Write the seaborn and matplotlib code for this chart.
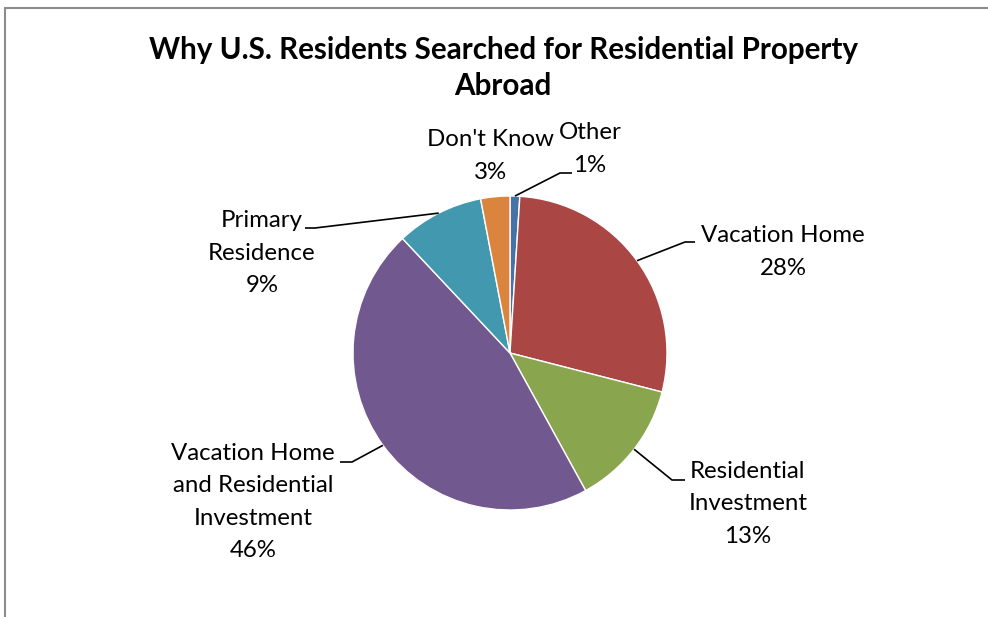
import numpy as np
import matplotlib
matplotlib.use("Agg")
import matplotlib.pyplot as plt
import seaborn as sns

# Survey shares, in clockwise order from the top of the pie
categories = ["Other", "Vacation Home", "Residential Investment",
              "Vacation Home and Residential Investment",
              "Primary Residence", "Don't Know"]
shares = [1, 28, 13, 46, 9, 3]
label_texts = ["Other\n1%", "Vacation Home\n28%", "Residential\nInvestment\n13%",
               "Vacation Home\nand Residential\nInvestment\n46%",
               "Primary\nResidence\n9%", "Don't Know\n3%"]
colors = ["#4572A7", "#AA4643", "#89A54E", "#71588F", "#4198AF", "#DB843D"]

sns.set_theme(style="white")
plt.rcParams["font.family"] = ["Lato", "DejaVu Sans"]

W, H = 988, 617
fig = plt.figure(figsize=(W / 100, H / 100), dpi=100)
ax = fig.add_axes([0, 0, 1, 1])
ax.set_xlim(0, W)
ax.set_ylim(0, H)
ax.axis("off")

cx, cy, r = 510, H - 353, 157
wedges, _ = ax.pie(shares, colors=colors, startangle=90, counterclock=False,
                   center=(cx, cy), radius=r,
                   wedgeprops=dict(edgecolor="white", linewidth=1.0))
ax.set_xlim(0, W)
ax.set_ylim(0, H)
ax.set_aspect("equal")

# label placement: (text x, text y, elbow x, elbow y, end x)
layout = [
    (590, H - 149, 560, H - 173, 572),
    (783, H - 252, 685, H - 242, 695),
    (748, H - 504, 672, H - 480, 685),
    (253, H - 502, 352, H - 462, 340),
    (262, H - 253, 315, H - 228, 305),
    (490, H - 156, None, None, None),
]

for w, txt, (tx, ty, ex, ey, hx) in zip(wedges, label_texts, layout):
    ax.text(tx, ty, txt, ha="center", va="center", fontsize=17.3,
            color="black", linespacing=1.65)
    if ex is not None:
        mid = np.deg2rad((w.theta1 + w.theta2) / 2)
        px, py = cx + r * np.cos(mid), cy + r * np.sin(mid)
        ax.plot([px, ex, hx], [py, ey, ey], color="black", lw=1.2,
                solid_capstyle="butt")

fig.text(503 / W, 1 - 68 / H,
         "Why U.S. Residents Searched for Residential Property\nAbroad",
         ha="center", va="center", fontsize=21.3, fontweight="bold",
         linespacing=1.38, color="black")

# chart frame edges
ax.plot([5, W], [H - 8, H - 8], color="#8c8c8c", lw=1.5)
ax.plot([5, 5], [0, H - 8], color="#8c8c8c", lw=1.5)

fig.savefig("out.png", dpi=100)
